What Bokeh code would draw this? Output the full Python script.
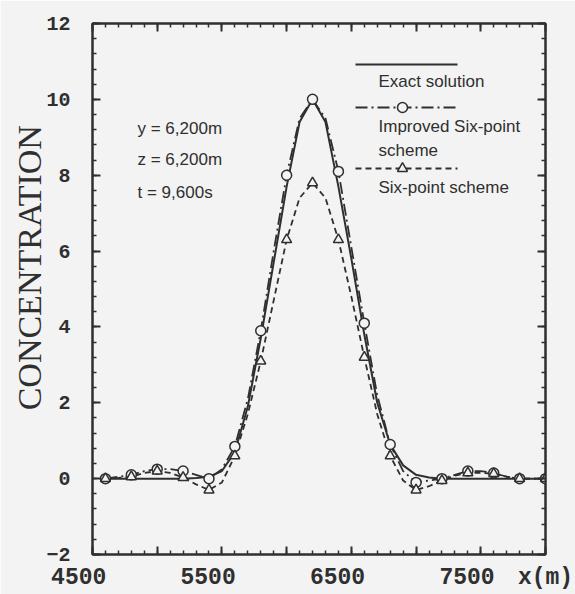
import math
from bokeh.plotting import figure
from bokeh.models import Range1d, SingleIntervalTicker, LinearAxis, Label
from bokeh.embed import file_html
from bokeh.resources import INLINE

# ---------------- data ----------------
x_pos = [4600, 4700, 4800, 4900, 5000, 5100, 5200, 5300, 5400, 5500,
         5600, 5700, 5800, 5900, 6000, 6100, 6200, 6300, 6400, 6500,
         6600, 6700, 6800, 6900, 7000, 7100, 7200, 7300, 7400, 7500,
         7600, 7700, 7800, 7900, 8000]

exact = [0, 0, 0, 0, 0, 0, 0, 0.02, 0.05, 0.2,
         0.7, 1.9, 3.7, 5.7, 7.7, 9.4, 10.0, 9.4, 7.7, 5.8,
         3.8, 2.0, 0.9, 0.35, 0.1, 0.03, 0, 0, 0, 0,
         0, 0, 0, 0, 0]

improved = [0, 0.05, 0.1, 0.2, 0.25, 0.25, 0.2, 0.1, 0.0, 0.25,
            0.85, 2.1, 3.9, 6.0, 8.0, 9.5, 10.0, 9.5, 8.1, 6.1,
            4.1, 2.2, 0.9, 0.2, -0.1, -0.05, 0.0, 0.1, 0.2, 0.2,
            0.15, 0.05, 0, 0, 0]

six_point = [0, 0.02, 0.05, 0.15, 0.2, 0.15, 0.03, -0.15, -0.3, -0.1,
             0.6, 1.7, 3.1, 4.7, 6.3, 7.4, 7.8, 7.4, 6.3, 4.8,
             3.2, 1.7, 0.6, -0.05, -0.3, -0.2, -0.05, 0.08, 0.15, 0.15,
             0.13, 0.05, 0, 0, 0]

# markers are drawn on every second grid node (200 m spacing)
x_mark = x_pos[::2]
improved_mark = improved[::2]
six_point_mark = six_point[::2]

x_tick_labels = [4500, 5500, 6500, 7500]
x_unit_label = "x(m)"
y_title = "CONCENTRATION"
legend_names = ["Exact solution", "Improved Six-point", "scheme", "Six-point scheme"]
annotations = ["y = 6,200m", "z = 6,200m", "t = 9,600s"]

# ---------------- layout / style ----------------
INK = "#2f2f2f"
BG = "#f3f3f3"
W, H = 575, 594
L, R, T, B = 92, 30, 23, 40
X0, X1, Y0, Y1 = 4500, 8000, -2, 12
NBSP = "\u00a0"


def px2x(px):
    return X0 + (px - L) / (W - L - R) * (X1 - X0)


def py2y(py):
    return Y1 - (py - T) / (H - T - B) * (Y1 - Y0)


p = figure(width=W, height=H, x_range=Range1d(X0, X1), y_range=Range1d(Y0, Y1),
           output_backend="svg", toolbar_location=None,
           min_border_left=L, min_border_right=R, min_border_top=T, min_border_bottom=B)
p.background_fill_color = BG
p.border_fill_color = BG
p.outline_line_color = INK
p.outline_line_width = 2
p.grid.visible = False

X_TICKS = list(range(X0, X1 + 1, 500))
Y_TICKS = list(range(Y0, Y1 + 1, 2))


def style_axis(ax, ticker, blank_ticks=None):
    ax.ticker = ticker
    ax.axis_line_color = INK
    ax.axis_line_width = 2
    ax.major_tick_in = 8
    ax.major_tick_out = 0
    ax.minor_tick_in = 4
    ax.minor_tick_out = 0
    ax.major_tick_line_color = INK
    ax.major_tick_line_width = 2
    ax.minor_tick_line_color = INK
    ax.minor_tick_line_width = 1.5
    if blank_ticks is not None:
        ax.major_label_overrides = {t: "" for t in blank_ticks}
        ax.major_label_standoff = 0
        ax.major_label_text_font_size = "10px"


# bottom axis: labels 4500/5500/6500/7500 sit a little left of their ticks,
# and the unit "x(m)" closes the row at the right end
bx = p.xaxis[0]
style_axis(bx, SingleIntervalTicker(interval=500, num_minor_ticks=5))
ov = {t: "" for t in X_TICKS}
for v in x_tick_labels:
    ov[v] = str(v) + NBSP + NBSP
ov[X1] = x_unit_label
bx.major_label_overrides = ov
bx.major_label_text_font = "Liberation Mono"
bx.major_label_text_font_style = "bold"
bx.major_label_text_font_size = "23px"
bx.major_label_text_color = INK
bx.major_label_standoff = 10

ly = p.yaxis[0]
style_axis(ly, SingleIntervalTicker(interval=2, num_minor_ticks=5))
ly.major_label_text_font = "Liberation Mono"
ly.major_label_text_font_style = "bold"
ly.major_label_text_font_size = "20px"
ly.major_label_text_color = INK
ly.major_label_standoff = 22
ly.axis_label = NBSP * 5 + y_title
ly.axis_label_text_font = "Liberation Serif"
ly.axis_label_text_font_style = "normal"
ly.axis_label_text_font_size = "34px"
ly.axis_label_text_color = INK
ly.axis_label_standoff = -5

top_axis = LinearAxis()
style_axis(top_axis, SingleIntervalTicker(interval=500, num_minor_ticks=5), X_TICKS)
p.add_layout(top_axis, "above")
right_axis = LinearAxis()
style_axis(right_axis, SingleIntervalTicker(interval=2, num_minor_ticks=5), Y_TICKS)
p.add_layout(right_axis, "right")

# ---------------- series ----------------
p.line(x_pos, exact, line_color=INK, line_width=2)
p.line(x_pos, improved, line_color=INK, line_width=1.8, line_dash="12 4 2 4")
p.line(x_pos, six_point, line_color=INK, line_width=1.8, line_dash="6 4")
p.scatter(x_mark, improved_mark, marker="circle", size=10, line_color=INK,
          line_width=1.5, fill_color=BG)
p.scatter(x_mark, six_point_mark, marker="triangle", size=10, line_color=INK,
          line_width=1.5, fill_color=BG)

# ---------------- legend (hand-drawn, sample line above its text) ----------------
lx0, lx1, lxm = px2x(355), px2x(457), px2x(402)
p.line([lx0, lx1], [py2y(64)] * 2, line_color=INK, line_width=2)
p.line([lx0, lx1], [py2y(107)] * 2, line_color=INK, line_width=1.8, line_dash="12 4 2 4")
p.scatter([lxm], [py2y(107)], marker="circle", size=10, line_color=INK, line_width=1.5, fill_color=BG)
p.line([lx0, lx1], [py2y(168)] * 2, line_color=INK, line_width=1.8, line_dash="6 4")
p.scatter([lxm], [py2y(168)], marker="triangle", size=10, line_color=INK, line_width=1.5, fill_color=BG)

for txt, base in zip(legend_names, [81, 126, 150, 187]):
    p.add_layout(Label(x=px2x(378), y=py2y(base), text=txt, text_font="Liberation Sans",
                       text_font_size="17px", text_color=INK, text_align="left",
                       text_baseline="alphabetic"))

for txt, base in zip(annotations, [128, 159, 192]):
    p.add_layout(Label(x=px2x(137), y=py2y(base), text=txt, text_font="Liberation Sans",
                       text_font_size="17px", text_color=INK, text_align="left",
                       text_baseline="alphabetic"))

open("out.html", "w").write(file_html(p, INLINE))
